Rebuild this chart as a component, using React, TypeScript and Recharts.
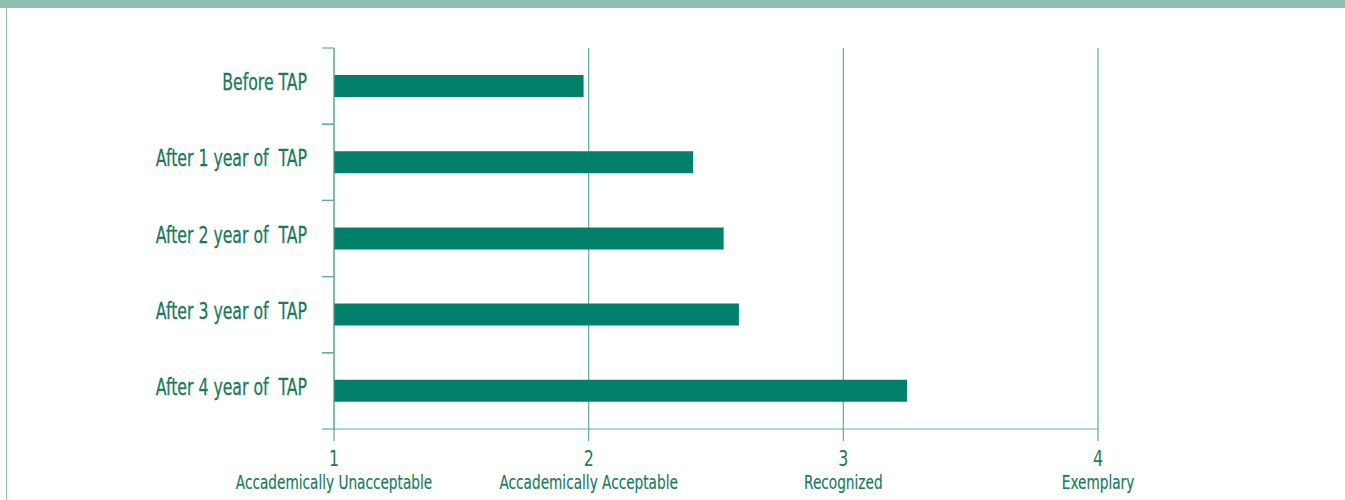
import { BarChart, Bar, XAxis, YAxis, CartesianGrid } from 'recharts'

const stages = [
  'Before TAP',
  'After 1 year of  TAP',
  'After 2 year of  TAP',
  'After 3 year of  TAP',
  'After 4 year of  TAP'
]
const ratings = [1.98, 2.41, 2.53, 2.59, 3.25]
const levelTicks = [1, 2, 3, 4]
const levelNames = [
  'Accademically Unacceptable',
  'Accademically Acceptable',
  'Recognized',
  'Exemplary'
]

const data = stages.map((stage, i) => ({ stage, rating: ratings[i] }))

const TEXT = '#1b7a5e'
const BAR = '#00806a'
const GRID = '#5fae98'
const BAND = '#8fbfb1'
const FONT = '"DejaVu Sans Condensed", "DejaVu Sans", sans-serif'

const WIDTH = 1345
const HEIGHT = 500
const TOP = 48
const AXIS_LEFT = 334
const BOTTOM_AXIS = 71
const AXIS_Y = HEIGHT - BOTTOM_AXIS
const PLOT_H = HEIGHT - TOP - BOTTOM_AXIS
const BAND_H = PLOT_H / stages.length

function StageTick({ y, payload }: any) {
  const half = BAND_H / 2
  return (
    <g>
      <line x1={AXIS_LEFT - 12} x2={AXIS_LEFT} y1={y - half} y2={y - half} stroke={GRID} strokeWidth={1.2} />
      <line x1={AXIS_LEFT - 12} x2={AXIS_LEFT} y1={y + half} y2={y + half} stroke={GRID} strokeWidth={1.2} />
      <text
        transform={`translate(${AXIS_LEFT - 27},${y + 4}) scale(0.76,1)`}
        textAnchor="end"
        fill={TEXT}
        stroke={TEXT}
        strokeWidth={0.3}
        fontSize={23}
        fontFamily={FONT}
        style={{ whiteSpace: 'pre' }}
      >
        {payload.value}
      </text>
    </g>
  )
}

function LevelTick({ x, payload }: any) {
  const idx = levelTicks.indexOf(payload.value)
  return (
    <g>
      <line x1={x} x2={x} y1={AXIS_Y} y2={AXIS_Y + 12} stroke={GRID} strokeWidth={1.2} />
      <text
        transform={`translate(${x},${AXIS_Y + 37}) scale(0.8,1)`}
        textAnchor="middle"
        fill={TEXT}
        fontSize={22}
        fontFamily={FONT}
      >
        {payload.value}
      </text>
      <text
        transform={`translate(${x},${AXIS_Y + 60}) scale(0.8,1)`}
        textAnchor="middle"
        fill={TEXT}
        stroke={TEXT}
        strokeWidth={0.2}
        fontSize={19}
        fontFamily={FONT}
      >
        {levelNames[idx]}
      </text>
    </g>
  )
}

export default function App() {
  return (
    <div style={{ position: 'absolute', left: 0, top: 0, width: WIDTH, height: HEIGHT, background: '#fff', overflow: 'hidden' }}>
      <div style={{ position: 'absolute', left: 0, top: 0, width: WIDTH, height: 8, background: BAND }} />
      <div style={{ position: 'absolute', left: 6, top: 8, width: 1, height: HEIGHT - 8, background: BAND }} />
      <BarChart
        width={WIDTH}
        height={HEIGHT}
        data={data}
        layout="vertical"
        margin={{ top: TOP, right: 247, bottom: 0, left: 0 }}
        barSize={22}
      >
        <CartesianGrid horizontal={false} stroke={GRID} strokeWidth={1.2} />
        <XAxis
          type="number"
          domain={[1, 4]}
          ticks={levelTicks}
          height={BOTTOM_AXIS}
          stroke={GRID}
          tickLine={false}
          tick={<LevelTick />}
          interval={0}
        />
        <YAxis
          type="category"
          dataKey="stage"
          width={AXIS_LEFT}
          stroke={GRID}
          tickLine={false}
          tick={<StageTick />}
          interval={0}
        />
        <Bar dataKey="rating" fill={BAR} isAnimationActive={false} />
      </BarChart>
    </div>
  )
}
